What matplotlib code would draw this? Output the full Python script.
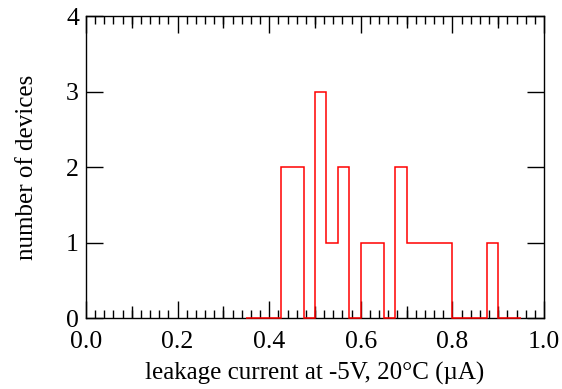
import numpy as np
import matplotlib
matplotlib.use('Agg')
import matplotlib.pyplot as plt

# histogram of leakage current (bin width 0.025 uA)
bin_start = 0.35
bin_width = 0.025
counts = [0, 0, 0, 2, 2, 0, 3, 1, 2, 0, 1, 1, 0, 2, 1, 1, 1, 1, 0, 0, 0, 1, 0, 0]
x_ticks = [0.0, 0.2, 0.4, 0.6, 0.8, 1.0]
x_mid_ticks = [0.1, 0.3, 0.5, 0.7, 0.9]
y_ticks = [0, 1, 2, 3, 4]

edges = bin_start + bin_width * np.arange(len(counts) + 1)

plt.rcParams['font.family'] = ['Liberation Serif', 'DejaVu Serif']

fig = plt.figure(figsize=(5.62, 3.89), dpi=100)
ax = fig.add_axes([0.153, 0.1825, 0.815, 0.776])

ax.stairs(counts, edges, color='#ff0000', linewidth=1.1, baseline=0,
          zorder=5, clip_on=False)

ax.set_xlim(0, 1.0)
ax.set_ylim(0, 4)
ax.set_xticks(x_ticks)
ax.set_xticklabels([f"{v:.1f}" for v in x_ticks])
ax.set_xticks(np.arange(0, 1.0001, 0.02), minor=True)
ax.set_yticks(y_ticks)

for s in ax.spines.values():
    s.set_linewidth(1.0)

ax.tick_params(axis='x', which='major', direction='in', length=12.2, width=1.0,
               top=True, bottom=True, labelsize=18.5, pad=9)
ax.tick_params(axis='x', which='minor', direction='in', length=5.5, width=1.0,
               top=True, bottom=True)
ax.tick_params(axis='y', which='major', direction='in', length=12.5, width=1.0,
               left=True, right=True, labelsize=18.5, pad=5)

# medium ticks at odd tenths
for loc in ['bottom', 'top']:
    sec = ax.secondary_xaxis(loc)
    sec.set_xticks(x_mid_ticks)
    sec.tick_params(direction='in', length=8.6, width=1.0, labelbottom=False,
                    labeltop=False)
    sec.spines[loc].set_visible(False)

ax.set_xlabel('leakage current at -5V, 20°C (µA)', fontsize=18, labelpad=7)
ax.set_ylabel('number of devices', fontsize=18, labelpad=20)

fig.savefig('out.png', dpi=100)
